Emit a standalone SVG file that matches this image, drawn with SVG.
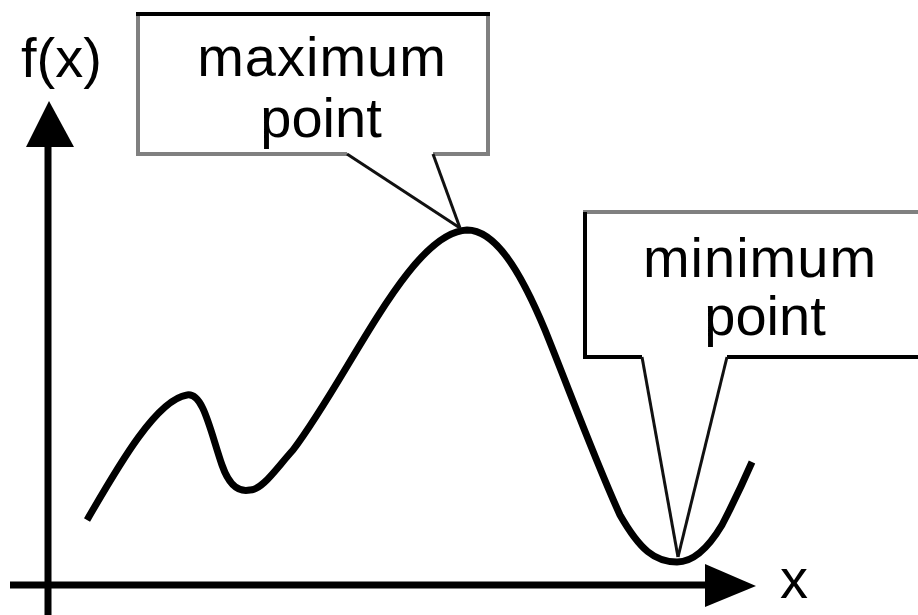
<svg xmlns="http://www.w3.org/2000/svg" width="918" height="615" viewBox="0 0 918 615">
<style>
.lbl{font-family:"Liberation Sans",Arial,sans-serif;font-size:56px;fill:#000}
.dark{stroke:#000;stroke-width:4;fill:none}
.grey{stroke:#808080;stroke-width:4;fill:none}
.ptr{stroke:#111;stroke-width:3;fill:none}
.axis{stroke:#000;stroke-width:7;fill:none}
</style>
<rect width="918" height="615" fill="#fff"/>
<g id="axes">
<line class="axis" x1="48" y1="615" x2="48" y2="140"/>
<polygon points="26,147 74,147 49,101" fill="#000"/>
<line class="axis" x1="10" y1="585" x2="710" y2="585"/>
<polygon points="705,564 705,607 756,586" fill="#000"/>
<text class="lbl" x="21" y="77">f(x)</text>
<text class="lbl" x="780" y="598">x</text>
</g>
<g id="curve">
<path d="M87,520 C115,472 155,400 187,395 C203,392 210,430 222,465 C230,488 240,492 250,490 C262,490 275,470 293,450 C350,375 410,232 467,230 C495,230 520,270 545,330 C570,392 595,460 620,515 C640,550 655,562 677,562 C695,562 710,545 722,525 C735,500 745,478 752,462" fill="none" stroke="#000" stroke-width="7" stroke-linecap="butt"/>
</g>
<g id="max-box">
<polygon points="138,14 488,14 488,154 433,154 460,228 347,154 138,154" fill="#fff"/>
<line class="grey" x1="138" y1="14" x2="138" y2="154"/>
<line class="grey" x1="136" y1="154" x2="347" y2="154"/>
<line class="grey" x1="433" y1="154" x2="490" y2="154"/>
<line class="grey" x1="488" y1="14" x2="488" y2="156"/>
<line class="dark" x1="136" y1="14" x2="490" y2="14"/>
<line class="ptr" x1="347" y1="154" x2="460" y2="228"/>
<line class="ptr" x1="433" y1="154" x2="460" y2="228"/>
<text class="lbl" x="322" y="76" text-anchor="middle" letter-spacing="1">maximum</text>
<text class="lbl" x="321" y="137" text-anchor="middle">point</text>
</g>
<g id="min-box">
<polygon points="585,212 920,212 920,357 727,357 678,557 642,357 585,357" fill="#fff"/>
<line class="grey" x1="583" y1="212" x2="920" y2="212"/>
<line class="dark" x1="585" y1="212" x2="585" y2="359"/>
<line class="dark" x1="583" y1="357" x2="642" y2="357"/>
<line class="dark" x1="727" y1="357" x2="920" y2="357"/>
<line class="ptr" x1="642" y1="357" x2="678" y2="557"/>
<line class="ptr" x1="727" y1="357" x2="678" y2="557"/>
<text class="lbl" x="760" y="277" text-anchor="middle" letter-spacing="1">minimum</text>
<text class="lbl" x="765" y="335" text-anchor="middle">point</text>
</g>
</svg>
